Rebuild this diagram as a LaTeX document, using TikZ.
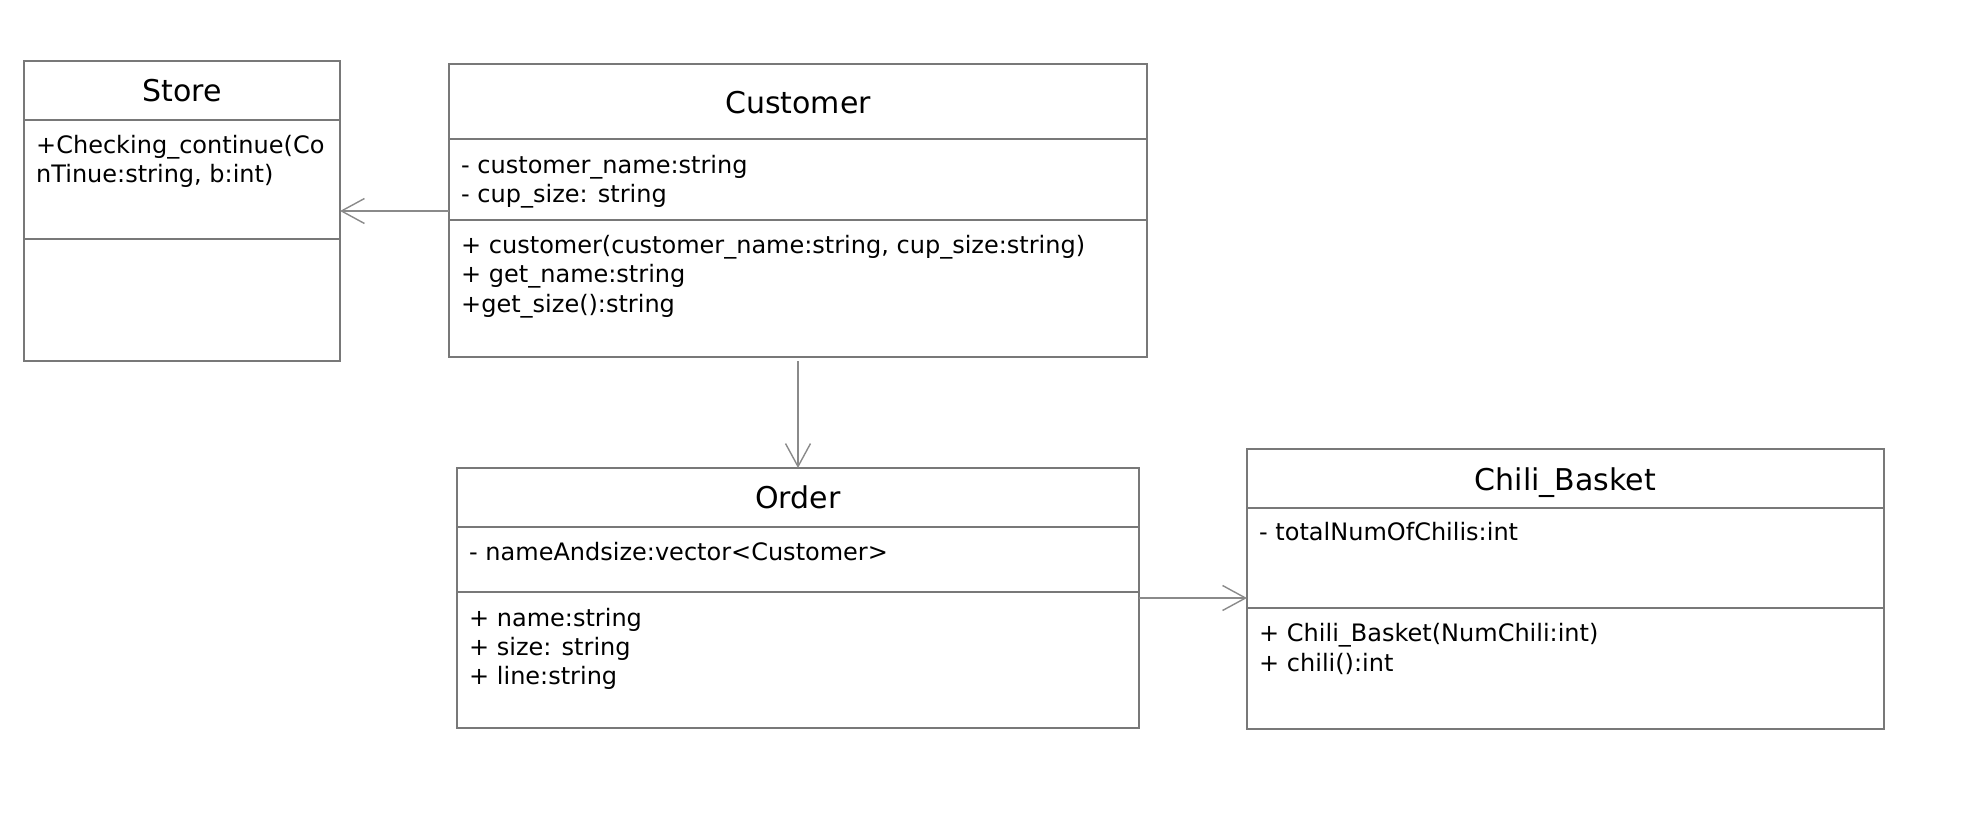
\documentclass[tikz,border=0pt]{standalone}
\usepackage{fontspec}
\setmainfont{DejaVu Sans}
\usetikzlibrary{arrows.meta}
\definecolor{umlgray}{RGB}{120, 120, 120}
\definecolor{arrowgray}{RGB}{138, 138, 138}

\newcommand{\rows}[1]{\begin{tabular}[t]{@{}l@{}}#1\end{tabular}}

\tikzset{
  classbox/.style={draw=umlgray, line width=2.3pt, rectangle, anchor=north west,
    outer sep=0pt, inner sep=0pt},
  divider/.style={draw=umlgray, line width=2.3pt},
  classname/.style={anchor=base, inner sep=0pt, font=\fontsize{30}{36}\selectfont},
  member/.style={anchor=base west, inner sep=0pt, font=\fontsize{24}{29.4}\selectfont},
  assoc/.style={draw=arrowgray, line width=2.2pt,
    -{Straight Barb[length=23pt, width=25pt, line width=1.4pt]}}
}

\begin{document}
\begin{tikzpicture}[x=1pt, y=-1pt]
  \useasboundingbox (0, 0) rectangle (1969, 829);

  % Store
  \node[classbox, minimum width=316pt, minimum height=300pt] (store) at (24, 61) {};
  \draw[divider] ([yshift=-59pt]store.north west) -- ([yshift=-59pt]store.north east);
  \draw[divider] ([yshift=-178pt]store.north west) -- ([yshift=-178pt]store.north east);
  \node[classname] (storeName) at (182, 101.7) {Store};
  \node[member] (storeAttr) at (36, 153.3) {\rows{+Checking\_continue(Co\\nTinue:string, b:int)}};

  % Customer
  \node[classbox, minimum width=698pt, minimum height=293pt] (customer) at (449, 64) {};
  \draw[divider] ([yshift=-75pt]customer.north west) -- ([yshift=-75pt]customer.north east);
  \draw[divider] ([yshift=-156pt]customer.north west) -- ([yshift=-156pt]customer.north east);
  \node[classname] (customerName) at (798, 113.3) {Customer};
  \node[member] (customerAttr) at (461, 173.3)
    {\rows{- customer\_name:string\\- cup\_size: string}};
  \node[member] (customerOps) at (461, 253.3)
    {\rows{+ customer(customer\_name:string, cup\_size:string)\\+ get\_name:string\\+get\_size():string}};

  % Order
  \node[classbox, minimum width=682pt, minimum height=260pt] (order) at (457, 468) {};
  \draw[divider] ([yshift=-59pt]order.north west) -- ([yshift=-59pt]order.north east);
  \draw[divider] ([yshift=-124pt]order.north west) -- ([yshift=-124pt]order.north east);
  \node[classname] (orderName) at (798, 508.3) {Order};
  \node[member] (orderAttr) at (469, 560.7) {\rows{- nameAndsize:vector<Customer>}};
  \node[member] (orderOps) at (469, 626)
    {\rows{+ name:string\\+ size: string\\+ line:string}};

  % Chili_Basket
  \node[classbox, minimum width=637pt, minimum height=280pt] (basket) at (1247, 449) {};
  \draw[divider] ([yshift=-59pt]basket.north west) -- ([yshift=-59pt]basket.north east);
  \draw[divider] ([yshift=-159pt]basket.north west) -- ([yshift=-159pt]basket.north east);
  \node[classname] (basketName) at (1565.5, 490) {Chili\_Basket};
  \node[member] (basketAttr) at (1259, 540) {\rows{- totalNumOfChilis:int}};
  \node[member] (basketOps) at (1259, 641.7)
    {\rows{+ Chili\_Basket(NumChili:int)\\+ chili():int}};

  % associations
  \draw[assoc] (customer.west |- store.east) -- (store.east);
  \draw[assoc] ([yshift=-4pt]customer.south) -- (customer.south |- order.north);
  \draw[assoc] (order.east) -- (order.east -| basket.west);

\end{tikzpicture}
\end{document}
